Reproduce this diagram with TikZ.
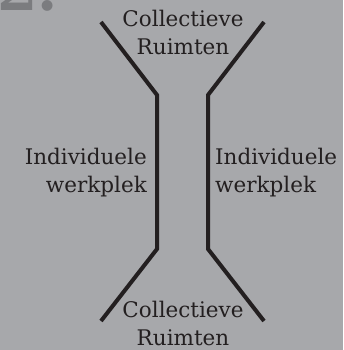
\documentclass[tikz,border=0pt]{standalone}
\usepackage{fontspec}
\setmainfont{DejaVu Serif}
\usetikzlibrary{positioning,calc}
\definecolor{bggray}{HTML}{A7A8AB}
\definecolor{numgray}{HTML}{7B7C7F}
\definecolor{inkline}{HTML}{231F20}

\begin{document}
\begin{tikzpicture} [x=1pt, y=-1pt, every node/.style = {inner sep=0pt, text=inkline, font=\fontsize{21.5}{28}\selectfont}]
        \tikzstyle{wall}=[draw=inkline, line width=4pt, line join=miter]
        \tikzstyle{label}=[align=center]
        \fill[bggray] (0,0) rectangle (343,350);
        \useasboundingbox (0,0) rectangle (343,350);
        \clip (0,0) rectangle (343,350);
        \node[anchor=base west, text=numgray, font=\fontsize{58}{58}\selectfont\bfseries] (nr) at (-3,11) {2.};
        \coordinate (ltop) at (101,22);
        \coordinate (lup) at (157,95);
        \coordinate (llow) at (157,249);
        \coordinate (lbot) at (101,321);
        \coordinate (rtop) at (264,22);
        \coordinate (rup) at (208,95);
        \coordinate (rlow) at (208,249);
        \coordinate (rbot) at (264,321);
        \draw[wall] (ltop) -- (lup) -- (llow) -- (lbot);
        \draw[wall] (rtop) -- (rup) -- (rlow) -- (rbot);
        \node[label] (boven) at (183,32.5) {Collectieve\\Ruimten};
        \node[label] (onder) at (183,323.5) {Collectieve\\Ruimten};
        \node[align=right, anchor=east] (links) at (147,173) {Individuele\\werkplek};
        \node[align=left, anchor=west] (rechts) at (215,173) {Individuele\\werkplek};
    \end{tikzpicture}
\end{document}
